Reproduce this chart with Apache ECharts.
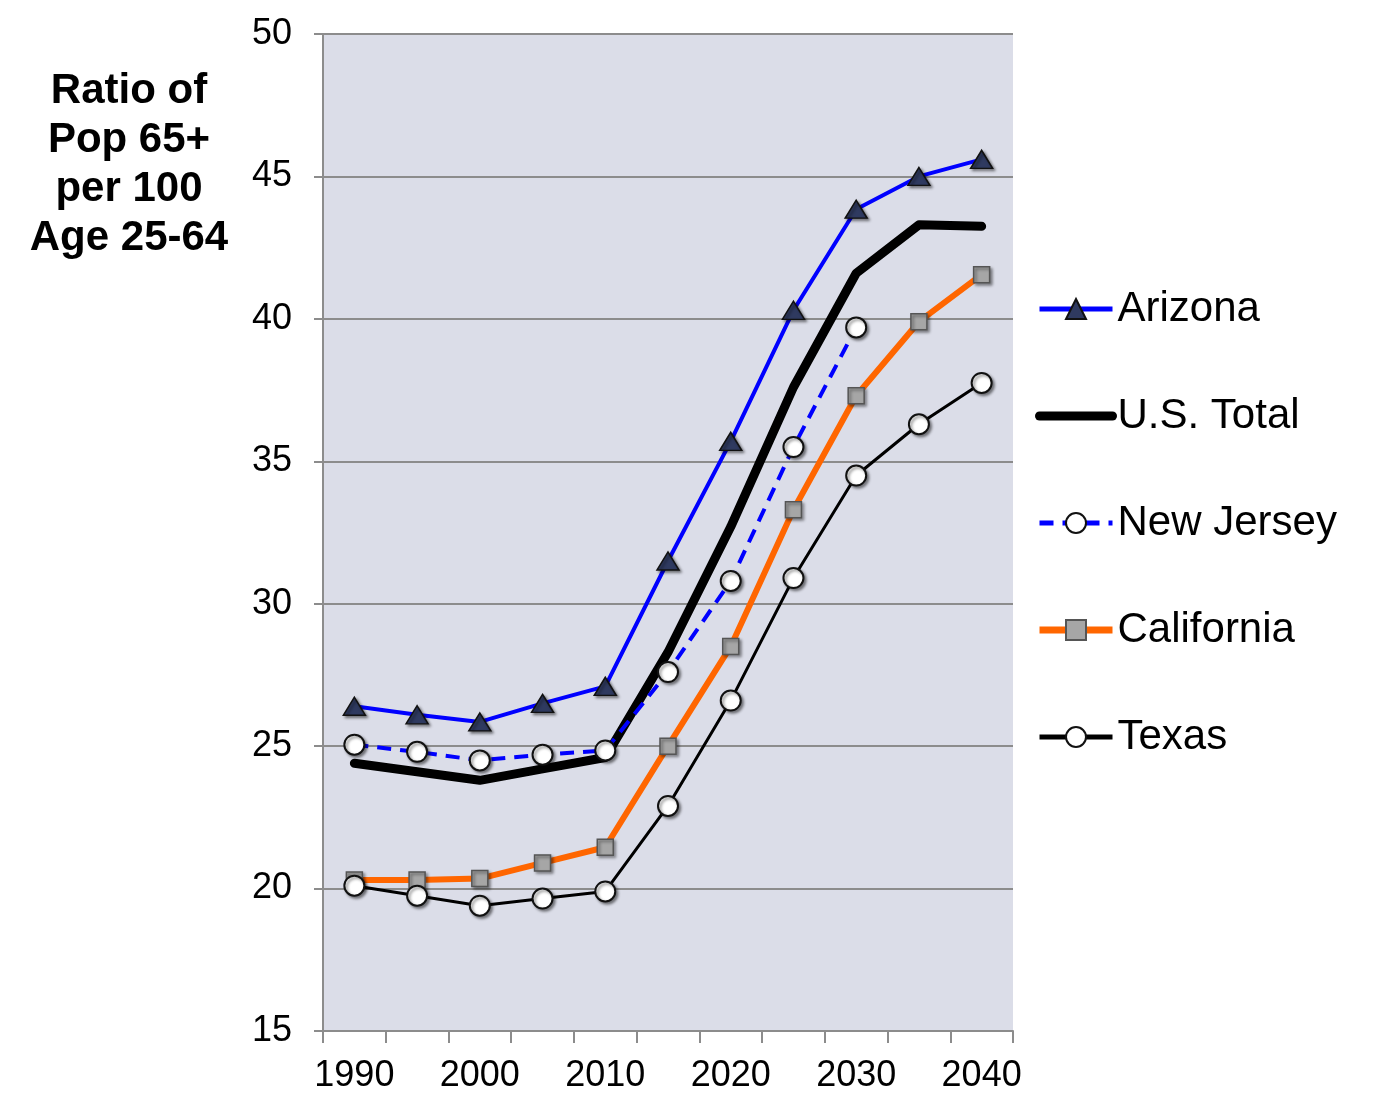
<!DOCTYPE html>
<html>
<head>
<meta charset="utf-8">
<script src="https://cdn.jsdelivr.net/npm/echarts@6/dist/echarts.min.js"></script>
<style>
  html, body { margin: 0; padding: 0; background: #fff; }
  #chart { width: 1383px; height: 1110px; }
</style>
</head>
<body>
<div id="chart"></div>
<script>
// categories (5-year steps)
const years = ['1990', '1995', '2000', '2005', '2010', '2015', '2020', '2025', '2030', '2035', '2040']
// ratio of pop 65+ per 100 age 25-64
const arizona = [26.4, 26.1, 25.85, 26.5, 27.1, 31.5, 35.7, 40.3, 43.85, 45.0, 45.6]
const usTotal = [24.4, 24.1, 23.8, 24.2, 24.6, 28.3, 32.7, 37.6, 41.6, 43.3, 43.25]
const newJersey = [25.05, 24.8, 24.5, 24.7, 24.85, 27.6, 30.8, 35.5, 39.7, null, null]
const california = [20.3, 20.3, 20.35, 20.9, 21.45, 25.0, 28.5, 33.3, 37.3, 39.9, 41.55]
const texas = [20.1, 19.75, 19.4, 19.65, 19.9, 22.9, 26.6, 30.9, 34.5, 36.3, 37.75]

const font = "'Liberation Sans', Arial, sans-serif"
const markShadow = {
  shadowBlur: 3,
  shadowColor: 'rgba(0,0,0,0.45)',
  shadowOffsetX: 2,
  shadowOffsetY: 2
}

const myChart = echarts.init(document.getElementById('chart'))
const option = {
  animation: false,
  textStyle: { fontFamily: font },
  grid: {
    left: 323,
    right: 370,
    top: 34,
    bottom: 79,
    show: true,
    backgroundColor: '#dbdde8',
    borderWidth: 0
  },
  graphic: [
    {
      type: 'text',
      x: 129,
      y: 67,
      style: {
        text: 'Ratio of\nPop 65+\nper 100\nAge 25-64',
        font: 'bold 42px ' + font,
        lineHeight: 49,
        fill: '#000',
        align: 'center',
        verticalAlign: 'top'
      }
    }
  ],
  legend: {
    data: [
      { name: 'Arizona', lineStyle: { width: 5 } },
      { name: 'U.S. Total', lineStyle: { width: 9 }, itemStyle: { color: 'rgba(0,0,0,0)', borderWidth: 0, shadowBlur: 0 } },
      { name: 'New Jersey', lineStyle: { width: 5 } },
      { name: 'California', lineStyle: { width: 7 } },
      { name: 'Texas', lineStyle: { width: 5 } }
    ],
    orient: 'vertical',
    left: 1030,
    top: 280,
    itemWidth: 73,
    itemHeight: 25,
    itemGap: 59,
    textStyle: {
      color: '#000',
      fontSize: 42,
      fontFamily: font,
      lineHeight: 48
    }
  },
  xAxis: {
    type: 'category',
    data: years,
    boundaryGap: true,
    axisLine: { lineStyle: { color: '#8c8c8c', width: 2 } },
    axisTick: {
      show: true,
      interval: 0,
      length: 12,
      lineStyle: { color: '#8c8c8c', width: 2 }
    },
    axisLabel: {
      interval: 1,
      margin: 27,
      color: '#000',
      fontSize: 36,
      fontFamily: font
    },
    splitLine: { show: false }
  },
  yAxis: {
    type: 'value',
    min: 15,
    max: 50,
    interval: 5,
    axisLine: { show: true, lineStyle: { color: '#8c8c8c', width: 2 } },
    axisTick: {
      show: true,
      length: 9,
      lineStyle: { color: '#8c8c8c', width: 2 }
    },
    axisLabel: {
      margin: 31,
      color: '#000',
      fontSize: 36,
      fontFamily: font
    },
    splitLine: {
      show: true,
      lineStyle: { color: '#8c8c8c', width: 2 }
    }
  },
  series: [
    {
      name: 'Arizona',
      type: 'line',
      z: 3,
      data: arizona,
      symbol: 'triangle',
      symbolSize: [22, 18],
      lineStyle: { color: '#0000ff', width: 4 },
      itemStyle: Object.assign({ color: '#2f3a60', borderColor: '#111', borderWidth: 1.5 }, markShadow)
    },
    {
      name: 'U.S. Total',
      type: 'line',
      z: 2,
      data: usTotal,
      symbol: 'none',
      lineStyle: { color: '#000', width: 9, cap: 'round', join: 'round' },
      itemStyle: { color: '#000' }
    },
    {
      name: 'New Jersey',
      type: 'line',
      z: 4,
      data: newJersey,
      symbol: 'circle',
      symbolSize: 20,
      lineStyle: { color: '#0000ff', width: 4, type: [14, 9] },
      itemStyle: Object.assign({ color: '#fff', borderColor: '#111', borderWidth: 2 }, markShadow)
    },
    {
      name: 'California',
      type: 'line',
      z: 3,
      data: california,
      symbol: 'rect',
      symbolSize: 16,
      lineStyle: { color: '#ff6600', width: 6 },
      itemStyle: Object.assign({ color: '#a6a6a6', borderColor: '#555', borderWidth: 1.5 }, markShadow)
    },
    {
      name: 'Texas',
      type: 'line',
      z: 5,
      data: texas,
      symbol: 'circle',
      symbolSize: 20,
      lineStyle: { color: '#000', width: 3 },
      itemStyle: Object.assign({ color: '#fff', borderColor: '#111', borderWidth: 2 }, markShadow)
    }
  ]
}
myChart.setOption(option)
</script>
</body>
</html>
